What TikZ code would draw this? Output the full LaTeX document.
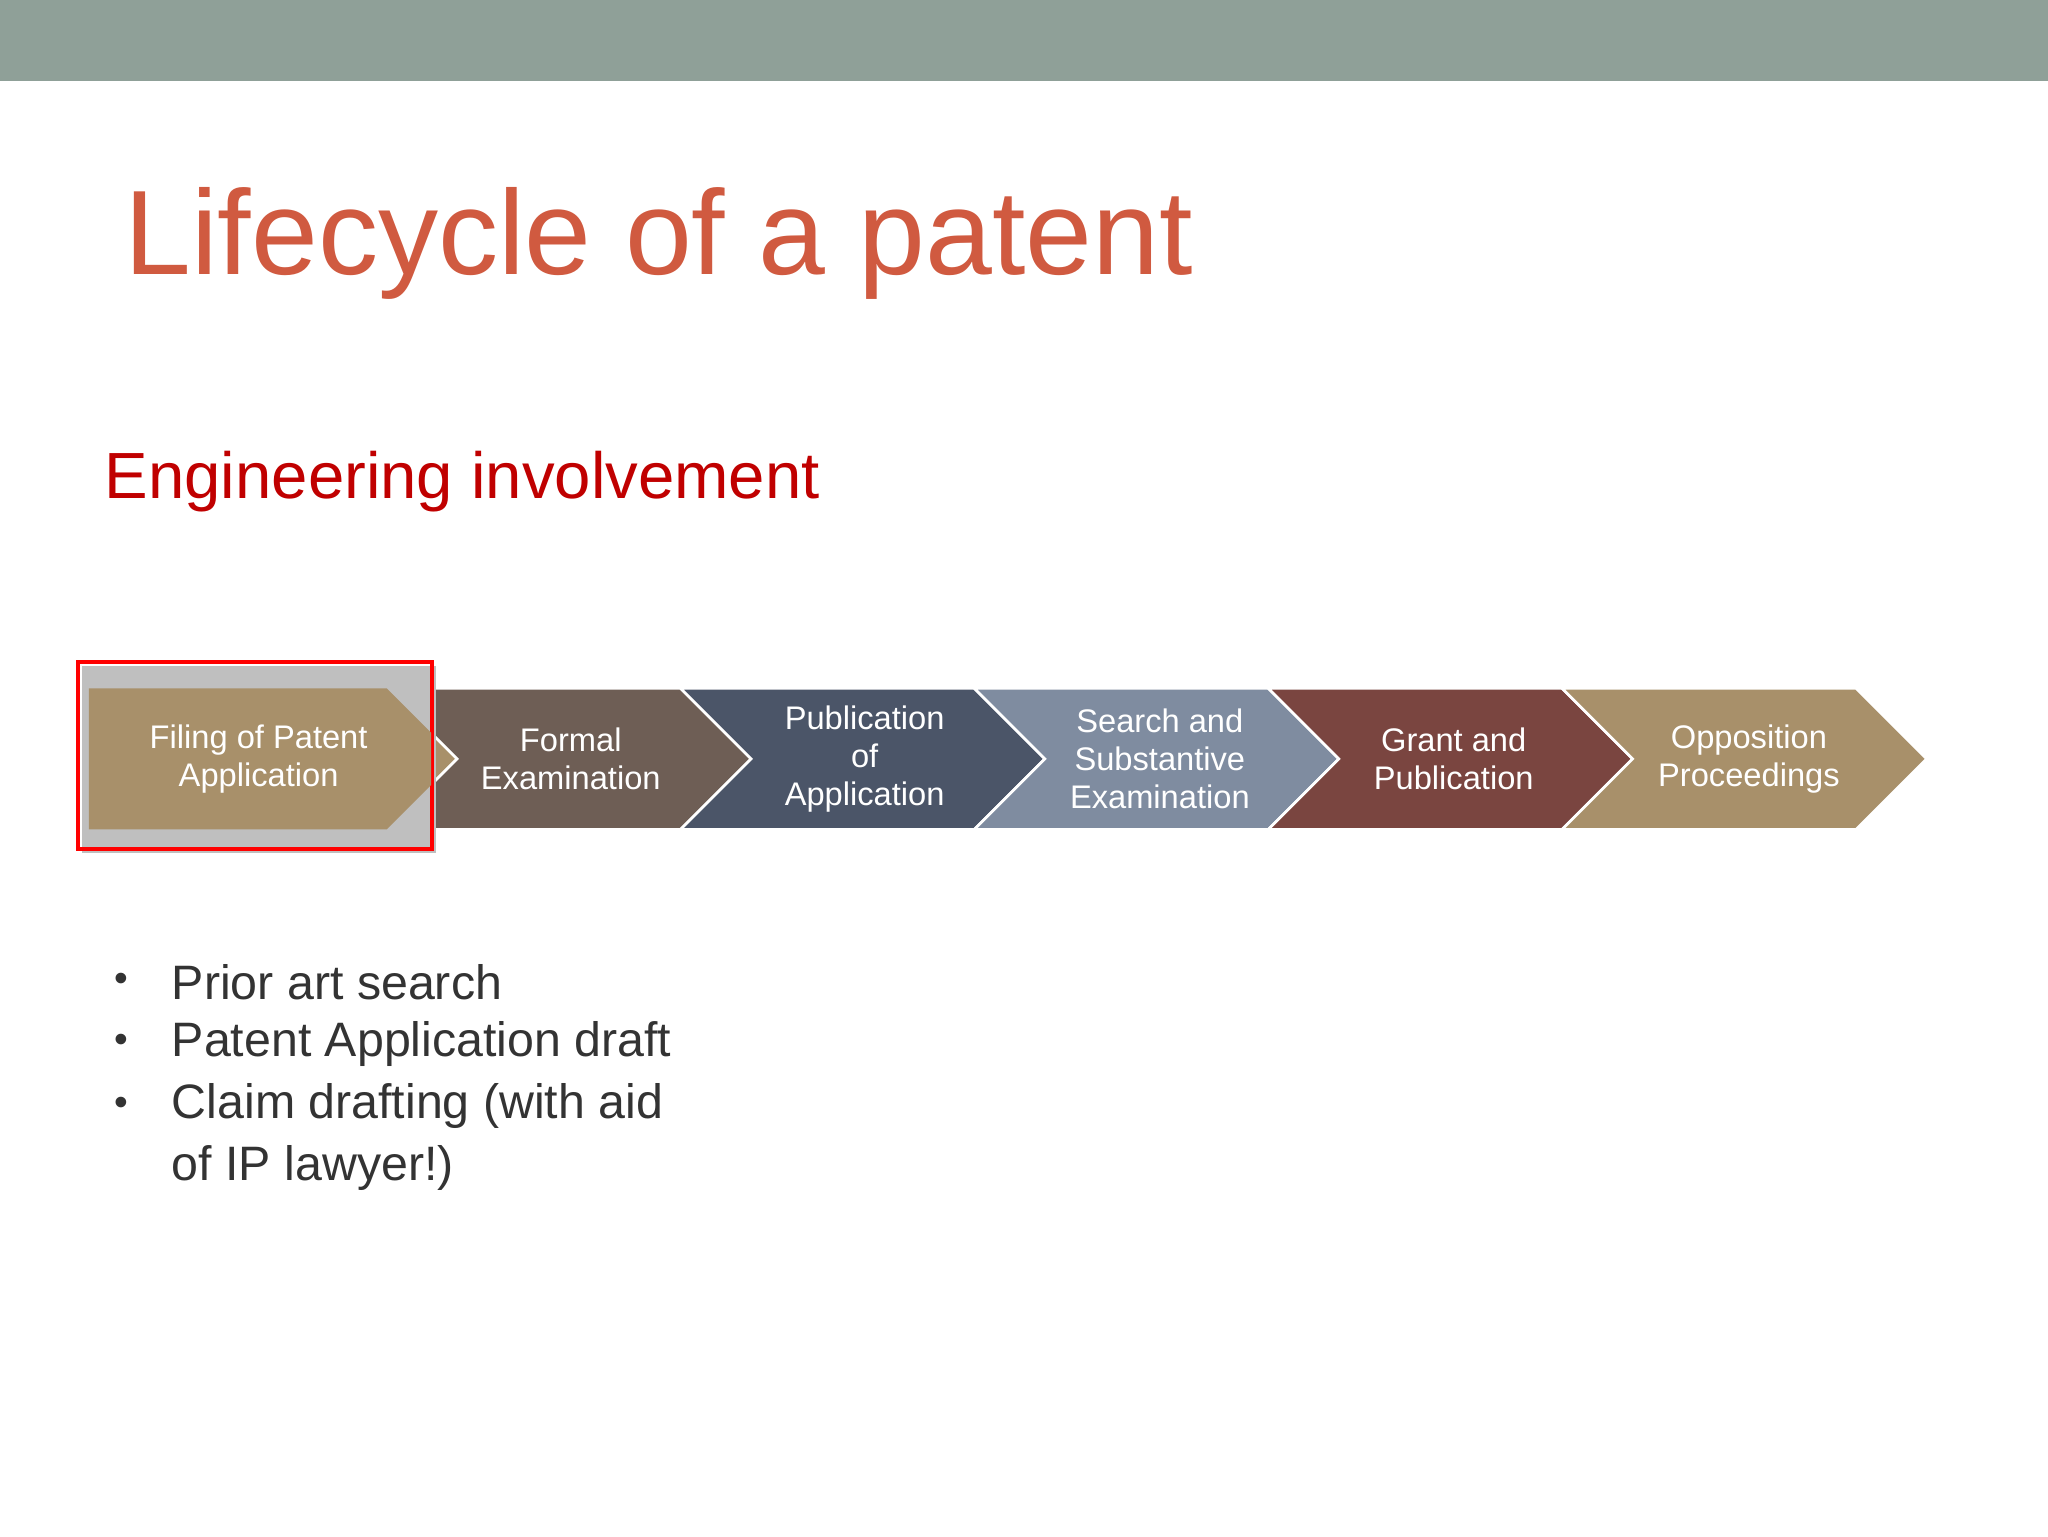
\documentclass[tikz,border=0pt]{standalone}
\usepackage{fontspec}
\setmainfont{Liberation Sans}
\definecolor{bar}{HTML}{8FA098}
\definecolor{ttl}{HTML}{D05A40}
\definecolor{sub}{HTML}{C00000}
\definecolor{cA}{HTML}{A8906A}
\definecolor{cB}{HTML}{6E5E55}
\definecolor{cC}{HTML}{4B5568}
\definecolor{cD}{HTML}{7F8CA0}
\definecolor{cE}{HTML}{7A4540}
\definecolor{txt}{HTML}{333333}
\tikzset{chev/.style={draw=white,line width=2pt,line join=miter},
 ctext/.style={text=white,font=\fontsize{25}{29}\selectfont,align=center},
 bul/.style={anchor=west,text=txt,font=\fontsize{37}{44}\selectfont}}
\begin{document}
\begin{tikzpicture}[x=1pt,y=-1pt]
\useasboundingbox (0,0) rectangle (1568,1176);
\fill[bar] (0,0) rectangle (1568,62);
\node[anchor=base west,text=ttl,font=\fontsize{92}{100}\selectfont,inner sep=0] (title) at (95,210) {Lifecycle of a patent};
\node[anchor=base west,text=sub,font=\fontsize{50}{56}\selectfont,inner sep=0] (sub) at (80,382) {Engineering involvement};
% chevrons
\fill[chev,fill=cA] (68,527) -- (296,527) -- (350,581) -- (296,635) -- (68,635) -- cycle;
\foreach \i/\c in {1/cB,2/cC,3/cD,4/cE,5/cA}{
 \pgfmathsetmacro{\x}{296+225*(\i-1)}
 \fill[chev,fill=\c] (\x,527) -- (\x+225,527) -- (\x+279,581) -- (\x+225,635) -- (\x,635) -- (\x+54,581) -- cycle;}
\node[ctext] (c1) at (198,581) {Filing of Patent\\Application};
\node[ctext] (c2) at (437,581) {Formal\\Examination};
\node[ctext] (c3) at (662,581) {Publication\\of\\Application};
\node[ctext] (c4) at (888,581) {Search and\\Substantive\\Examination};
\node[ctext] (c5) at (1113,581) {Grant and\\Publication};
\node[ctext] (c6) at (1339,581) {Opposition\\Proceedings};
\fill[black!25] (63,510) rectangle (334,653);
\draw[red,line width=3pt,fill=none] (60,507) rectangle (331,650);
\fill[cA] (68,527) -- (296,527) -- (330,561) -- (330,601) -- (296,635) -- (68,635) -- cycle;
\node[ctext] at (198,581) {Filing of Patent\\Application};
\foreach \y/\t in {752/Prior art search,799/Patent Application draft,847/Claim drafting (with aid}{
 \node[text=txt,font=\fontsize{30}{30}\selectfont] at (93,\y) {•};
 \node[bul] at (128,\y) {\t};}
\node[bul] (b4) at (128,894) {of IP lawyer!)};
\end{tikzpicture}
\end{document}
